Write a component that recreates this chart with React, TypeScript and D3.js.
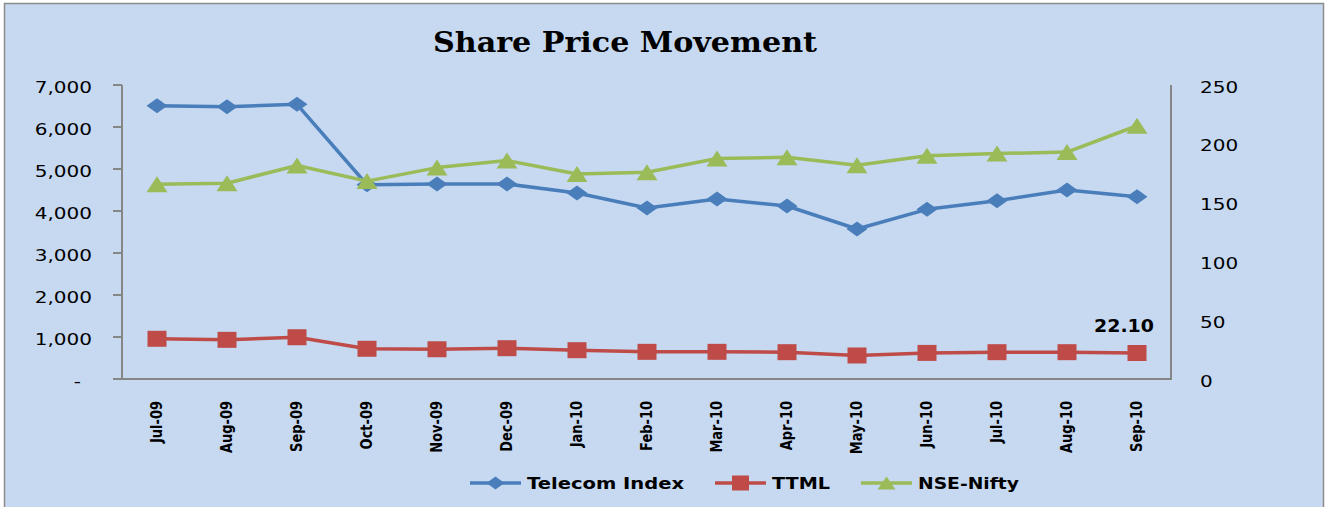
import React from "react";
import * as d3 from "d3";

const months = ["Jul-09","Aug-09","Sep-09","Oct-09","Nov-09","Dec-09","Jan-10","Feb-10","Mar-10","Apr-10","May-10","Jun-10","Jul-10","Aug-10","Sep-10"];
const telecomIndex = [6507,6483,6540,4625,4643,4643,4429,4071,4286,4119,3571,4040,4245,4500,4341];
const ttml = [34.2,33.3,35.5,25.7,25.3,26.2,24.5,23.1,23.1,22.8,20.0,22.2,22.8,22.8,22.10];
const nifty = [4636,4662,5084,4712,5033,5201,4882,4922,5249,5278,5087,5313,5368,5402,6030];
const leftTicks = [0,1000,2000,3000,4000,5000,6000,7000];
const rightTicks = [0,50,100,150,200,250];
const title = "Share Price Movement";
const legendItems = [
  { name: "Telecom Index", color: "#4A7EBB", marker: "diamond" },
  { name: "TTML", color: "#BE4B48", marker: "square" },
  { name: "NSE-Nifty", color: "#9BBB59", marker: "triangle" },
];

const W = 1326, H = 507;
const plotL = 122, plotR = 1172, plotT = 85, plotB = 379;

function markerPath(kind: string, w: number, h: number) {
  if (kind === "diamond") return `M0,${-h/2}L${w/2},0L0,${h/2}L${-w/2},0Z`;
  if (kind === "square") return `M${-w/2},${-h/2}H${w/2}V${h/2}H${-w/2}Z`;
  return `M0,${-h/2}L${w/2},${h/2}L${-w/2},${h/2}Z`;
}

export default function App() {
  const x = d3.scalePoint<string>().domain(months).range([plotL, plotR]).padding(0.5);
  const yL = d3.scaleLinear().domain([0, 7000]).range([plotB, plotT]);
  const yR = d3.scaleLinear().domain([0, 250]).range([plotB, plotT]);
  const fmt = d3.format(",");

  const mk = (vals: number[], y: d3.ScaleLinear<number, number>) =>
    d3.line<number>().x((_, i) => x(months[i]) as number).y((v) => y(v))(vals) as string;

  const series = [
    { vals: telecomIndex, y: yL, color: "#4A7EBB", marker: "diamond", w: 21, h: 15 },
    { vals: nifty, y: yL, color: "#9BBB59", marker: "triangle", w: 21, h: 16 },
    { vals: ttml, y: yR, color: "#BE4B48", marker: "square", w: 19, h: 16 },
  ];

  const legendX = [470, 715, 861];
  const legendTextLen = [157, 58, 101];
  const lastIdx = months.length - 1;

  return (
    <svg width={W} height={H} style={{ position: "fixed", left: 0, top: 0 }}
      fontFamily="'DejaVu Sans', sans-serif">
      <rect x={0} y={0} width={W} height={H} fill="#ffffff" />
      <rect x={4.5} y={3.5} width={1319} height={H} fill="#C6D9F1" stroke="#8C8C8C" strokeWidth={1.5} />
      <text x={625} y={52} textAnchor="middle" fontFamily="'DejaVu Serif', serif" fontWeight="bold"
        fontSize={27} textLength={384} lengthAdjust="spacingAndGlyphs" fill="#000">{title}</text>

      {/* axes */}
      <line x1={plotL} x2={plotL} y1={plotT} y2={plotB} stroke="#868686" strokeWidth={2} />
      <line x1={plotR - 1} x2={plotR - 1} y1={plotT} y2={plotB} stroke="#868686" strokeWidth={2} />
      <line x1={113} x2={plotR} y1={plotB} y2={plotB} stroke="#868686" strokeWidth={2} />
      {leftTicks.map((t) => (
        <g key={"lt" + t}>
          <line x1={113} x2={plotL} y1={yL(t)} y2={yL(t)} stroke="#868686" strokeWidth={2} />
          <g transform={`translate(${t === 0 ? 81 : 92},${yL(t) + 2}) scale(1.25,1)`}>
            <text textAnchor="end" dy="0.35em" fontSize={16} fill="#000">{t === 0 ? "-" : fmt(t)}</text>
          </g>
        </g>
      ))}
      {rightTicks.map((t) => (
        <g key={"rt" + t} transform={`translate(1200,${yR(t) + 2}) scale(1.25,1)`}>
          <text textAnchor="start" dy="0.35em" fontSize={16} fill="#000">{t}</text>
        </g>
      ))}
      {months.map((m) => (
        <g key={m} transform={`translate(${x(m)},401) rotate(-90) scale(1,1.2)`}>
          <text textAnchor="end" dy="0.35em" fontSize={13} fontWeight="bold" fill="#000">{m}</text>
        </g>
      ))}

      {/* series */}
      {series.map((s, si) => (
        <g key={"s" + si}>
          <path d={mk(s.vals, s.y)} fill="none" stroke={s.color} strokeWidth={3.5} strokeLinejoin="round" />
          {s.vals.map((v, i) => (
            <path key={i} d={markerPath(s.marker, s.w, s.h)}
              transform={`translate(${x(months[i])},${s.y(v)})`} fill={s.color} />
          ))}
        </g>
      ))}

      {/* data label */}
      <text x={(x(months[lastIdx]) as number) - 13} y={332} textAnchor="middle" fontSize={17}
        fontWeight="bold" textLength={60} lengthAdjust="spacingAndGlyphs" fill="#000">
        {ttml[lastIdx].toFixed(2)}
      </text>

      {/* legend */}
      {legendItems.map((it, i) => (
        <g key={it.name}>
          <line x1={legendX[i]} x2={legendX[i] + 51} y1={483} y2={483} stroke={it.color} strokeWidth={3.5} />
          <path d={markerPath(it.marker, it.marker === "square" ? 17 : 18, it.marker === "square" ? 15 : 13)}
            transform={`translate(${legendX[i] + 25.5},483)`} fill={it.color} />
          <text x={legendX[i] + 57} y={489} fontSize={16} fontWeight="bold" textLength={legendTextLen[i]}
            lengthAdjust="spacingAndGlyphs" fill="#000">{it.name}</text>
        </g>
      ))}
    </svg>
  );
}
